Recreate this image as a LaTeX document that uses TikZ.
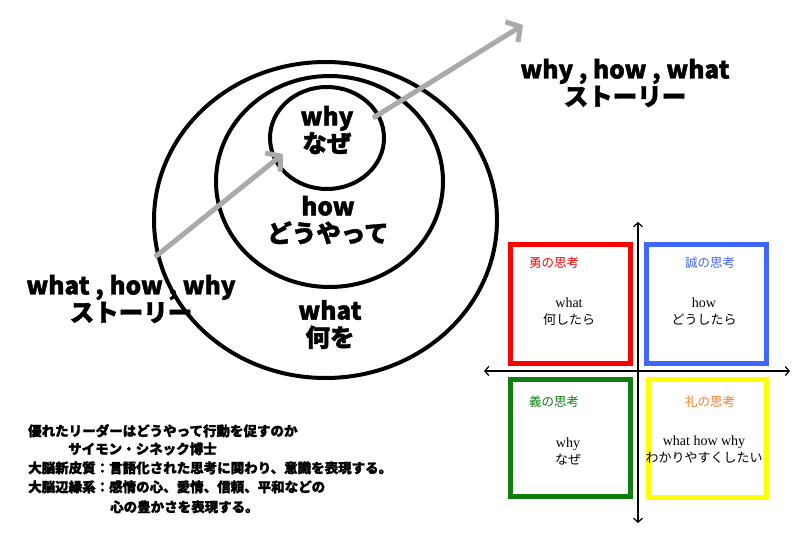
\documentclass[tikz,border=0pt]{standalone}
\usepackage{fontspec}
\setmainfont{Noto Sans CJK JP}
\newfontfamily\jp{Noto Sans CJK JP}
\newfontfamily\jpb{Noto Sans CJK JP}[BoldFeatures={FakeBold=1.6}]
\newfontfamily\tms{Liberation Serif}
\usetikzlibrary{arrows.meta,shapes.geometric}
\definecolor{qred}{HTML}{FF0000}
\definecolor{qblue}{HTML}{3F66FF}
\definecolor{qgreen}{HTML}{0E7E0E}
\definecolor{qyellow}{HTML}{FFFF00}
\definecolor{qorange}{HTML}{FF7A2A}
\definecolor{garrow}{HTML}{AAAAAA}
\begin{document}
\begin{tikzpicture}[x=1pt,y=-1pt,
  ring/.style={draw=black,line width=4pt,ellipse,inner sep=0pt,outer sep=0pt},
  bigtxt/.style={font=\jpb\bfseries\fontsize{24.5}{27}\selectfont,align=center,inner sep=0pt},
  quadbox/.style={draw,line width=5pt,rectangle,inner sep=0pt,minimum width=120pt,minimum height=118pt},
  qlabel/.style={font=\jp\fontsize{12.5}{14}\selectfont,inner sep=0pt},
  qtext/.style={align=center,inner sep=0pt,font=\fontsize{14}{17}\selectfont},
  note/.style={font=\jpb\bfseries\fontsize{13.5}{16}\selectfont,anchor=base west,inner sep=0pt},
  garr/.style={draw=garrow,line width=5pt,-{Straight Barb[length=10pt,width=24pt]}},
  axis/.style={draw=black,line width=1.2pt,{Straight Barb[length=4pt,width=9pt]}-{Straight Barb[length=4pt,width=9pt]}}]
\useasboundingbox (0,0) rectangle (800,534);
\fill[white] (0,0) rectangle (800,534);

% nested ellipses
\node[ring,minimum width=343pt,minimum height=316pt] (outer) at (325.5,220) {};
\node[ring,minimum width=227pt,minimum height=211pt] (middle) at (329.5,181.5) {};
\node[ring,minimum width=114pt,minimum height=102pt] (inner) at (327,138) {};

\node[bigtxt] (why) at (327,130) {why\\なぜ};
\node[bigtxt] (how) at (328,220) {how\\どうやって};
\node[bigtxt] (what) at (330,324.5) {what\\何を};

\node[bigtxt] (storyA) at (625,83) {why , how , what\\ストーリー};
\node[bigtxt] (storyB) at (131,299) {what , how , why\\ストーリー};

% gray arrows
\coordinate (a1s) at (155,257);
\coordinate (a1e) at (283,154);
\coordinate (a2s) at (373,118);
\coordinate (a2e) at (523,25);
\draw[garr] (a1s) -- (a1e);
\draw[garr] (a2s) -- (a2e);

% quadrant axes
\coordinate (vt) at (638,222);
\coordinate (vb) at (638,523);
\coordinate (hl) at (484,371);
\coordinate (hr) at (790,371);
\draw[axis] (vt) -- (vb);
\draw[axis] (hl) -- (hr);

% quadrant boxes
\node[quadbox,draw=qred,minimum height=119pt] (bred) at (570.5,304) {};
\node[quadbox,draw=qblue,minimum height=119pt] (bblue) at (706.5,304) {};
\node[quadbox,draw=qgreen,minimum height=117pt] (bgreen) at (570.5,438) {};
\node[quadbox,draw=qyellow,minimum width=118pt] (byellow) at (707,438.5) {};

\node[qlabel,text=qred] (lred) at (554,263) {勇の思考};
\node[qlabel,text=qblue] (lblue) at (710,263) {誠の思考};
\node[qlabel,text=qgreen] (lgreen) at (554,402) {義の思考};
\node[qlabel,text=qorange] (lyellow) at (710,402) {礼の思考};

\node[qtext] (tred) at (569,311.5) {{\tms what}\\{\jp\fontsize{13}{17}\selectfont 何したら}};
\node[qtext] (tblue) at (704,311.5) {{\tms how}\\{\jp\fontsize{13}{17}\selectfont どうしたら}};
\node[qtext] (tgreen) at (568,451.5) {{\tms why}\\{\jp\fontsize{13}{17}\selectfont なぜ}};
\node[qtext] (tyellow) at (704,450) {{\tms what how why}\\{\jp\fontsize{13}{17}\selectfont わかりやすくしたい}};

% notes
\node[note] (n1) at (28,436) {優れたリーダーはどうやって行動を促すのか};
\node[note] (n2) at (68,454) {サイモン・シネック博士};
\node[note] (n3) at (28,473) {大脳新皮質：言語化された思考に関わり、意識を表現する。};
\node[note] (n4) at (28,492) {大脳辺縁系：感情の心、愛情、信頼、平和などの};
\node[note] (n5) at (110,512) {心の豊かさを表現する。};
\end{tikzpicture}
\end{document}
